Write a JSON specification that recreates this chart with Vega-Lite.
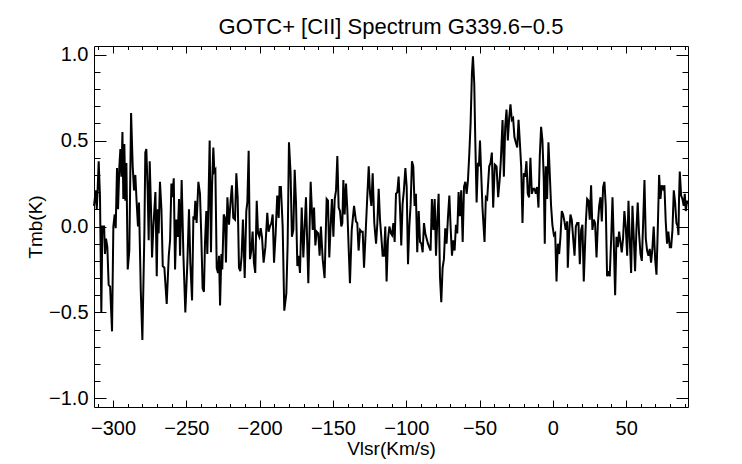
{
  "$schema": "https://vega.github.io/schema/vega-lite/v6.json",
  "width": 594,
  "height": 361,
  "autosize": {"type": "none"},
  "padding": {"left": 94, "top": 46, "right": 54, "bottom": 57},
  "background": "white",
  "title": {
    "text": "GOTC+ [CII] Spectrum G339.6\u22120.5",
    "font": "Liberation Sans",
    "fontSize": 22,
    "fontWeight": "normal",
    "color": "black",
    "anchor": "middle",
    "offset": 6
  },
  "config": {
    "view": {"stroke": null},
    "axis": {
      "grid": false,
      "domainColor": "black",
      "domainWidth": 1,
      "tickColor": "black",
      "tickWidth": 1,
      "labelFont": "Liberation Sans",
      "labelFontSize": 20,
      "labelColor": "black",
      "labelOverlap": false,
      "labelFlush": false,
      "titleFont": "Liberation Sans",
      "titleFontSize": 19,
      "titleFontWeight": "normal",
      "titleColor": "#000000"
    }
  },
  "data": {
    "values": [
      {"v": -313.0, "t": 0.12}, {"v": -311.8, "t": 0.21}, {"v": -311.1, "t": 0.10}, {"v": -310.5, "t": 0.22},
      {"v": -309.8, "t": 0.38}, {"v": -308.9, "t": 0.17}, {"v": -308.0, "t": -0.50}, {"v": -307.3, "t": 0.0},
      {"v": -306.1, "t": 0.0}, {"v": -305.5, "t": -0.16}, {"v": -304.8, "t": -0.07}, {"v": -303.9, "t": -0.12},
      {"v": -303.0, "t": -0.34}, {"v": -302.0, "t": -0.35}, {"v": -300.7, "t": -0.61}, {"v": -299.8, "t": 0.0},
      {"v": -298.9, "t": 0.07}, {"v": -298.2, "t": -0.01}, {"v": -297.3, "t": 0.34}, {"v": -296.6, "t": 0.10},
      {"v": -295.7, "t": 0.35}, {"v": -295.0, "t": 0.45}, {"v": -294.3, "t": 0.29}, {"v": -293.6, "t": 0.55},
      {"v": -293.0, "t": 0.16}, {"v": -292.3, "t": 0.48}, {"v": -291.6, "t": 0.15}, {"v": -290.9, "t": 0.37},
      {"v": -290.0, "t": -0.25}, {"v": -288.9, "t": -0.14}, {"v": -287.7, "t": 0.66}, {"v": -286.6, "t": 0.35},
      {"v": -285.7, "t": 0.21}, {"v": -284.8, "t": 0.30}, {"v": -283.9, "t": 0.14}, {"v": -283.0, "t": 0.0},
      {"v": -282.3, "t": 0.14}, {"v": -281.1, "t": -0.37}, {"v": -280.0, "t": -0.66}, {"v": -278.6, "t": -0.02},
      {"v": -278.0, "t": 0.43}, {"v": -277.3, "t": 0.45}, {"v": -276.4, "t": 0.21}, {"v": -275.7, "t": -0.08},
      {"v": -275.0, "t": 0.38}, {"v": -274.1, "t": 0.10}, {"v": -273.4, "t": -0.18}, {"v": -272.5, "t": 0.0},
      {"v": -271.1, "t": 0.20}, {"v": -270.2, "t": -0.29}, {"v": -269.5, "t": 0.10}, {"v": -268.9, "t": -0.04},
      {"v": -268.0, "t": 0.26}, {"v": -267.0, "t": 0.10}, {"v": -266.1, "t": -0.23}, {"v": -265.0, "t": -0.24},
      {"v": -263.4, "t": -0.45}, {"v": -262.0, "t": -0.17}, {"v": -261.1, "t": -0.08}, {"v": -260.2, "t": 0.25},
      {"v": -259.5, "t": 0.17}, {"v": -258.6, "t": 0.28}, {"v": -257.7, "t": -0.25}, {"v": -256.8, "t": 0.04},
      {"v": -255.9, "t": -0.06}, {"v": -255.0, "t": 0.16}, {"v": -254.3, "t": -0.17}, {"v": -253.2, "t": 0.27},
      {"v": -252.0, "t": -0.17}, {"v": -250.7, "t": -0.50}, {"v": -249.3, "t": -0.21}, {"v": -248.2, "t": 0.10},
      {"v": -247.3, "t": -0.21}, {"v": -246.1, "t": -0.43}, {"v": -245.2, "t": 0.06}, {"v": -244.5, "t": 0.04},
      {"v": -243.9, "t": 0.15}, {"v": -243.0, "t": 0.02}, {"v": -241.8, "t": 0.26}, {"v": -240.7, "t": 0.19},
      {"v": -239.8, "t": -0.06}, {"v": -238.9, "t": -0.36}, {"v": -238.0, "t": -0.38}, {"v": -237.3, "t": -0.10},
      {"v": -236.4, "t": 0.09}, {"v": -235.7, "t": -0.16}, {"v": -235.0, "t": 0.10}, {"v": -234.1, "t": 0.50},
      {"v": -233.2, "t": -0.15}, {"v": -232.5, "t": 0.23}, {"v": -231.6, "t": 0.46}, {"v": -230.9, "t": 0.32},
      {"v": -230.2, "t": 0.33}, {"v": -229.3, "t": -0.24}, {"v": -228.4, "t": -0.27}, {"v": -227.7, "t": -0.17},
      {"v": -227.0, "t": -0.46}, {"v": -226.1, "t": -0.16}, {"v": -225.5, "t": -0.25}, {"v": -224.5, "t": 0.07},
      {"v": -223.6, "t": 0.05}, {"v": -223.0, "t": -0.21}, {"v": -222.0, "t": 0.17}, {"v": -220.9, "t": 0.01},
      {"v": -219.8, "t": 0.15}, {"v": -218.9, "t": 0.24}, {"v": -218.0, "t": 0.05}, {"v": -216.8, "t": 0.04},
      {"v": -215.9, "t": 0.31}, {"v": -215.0, "t": 0.17}, {"v": -214.1, "t": -0.24}, {"v": -213.2, "t": -0.26},
      {"v": -212.3, "t": -0.17}, {"v": -211.4, "t": 0.04}, {"v": -210.2, "t": -0.30}, {"v": -209.1, "t": 0.09},
      {"v": -208.4, "t": 0.14}, {"v": -207.5, "t": 0.44}, {"v": -206.6, "t": -0.19}, {"v": -205.7, "t": -0.14},
      {"v": -204.8, "t": -0.03}, {"v": -203.9, "t": -0.21}, {"v": -203.0, "t": -0.27}, {"v": -202.0, "t": 0.15},
      {"v": -201.1, "t": -0.04}, {"v": -200.2, "t": -0.06}, {"v": -199.3, "t": -0.01}, {"v": -198.4, "t": -0.06},
      {"v": -197.3, "t": -0.21}, {"v": -196.1, "t": -0.12}, {"v": -194.8, "t": 0.08}, {"v": -193.9, "t": -0.03},
      {"v": -193.0, "t": 0.0}, {"v": -192.0, "t": 0.02}, {"v": -191.1, "t": 0.07}, {"v": -190.2, "t": -0.21},
      {"v": -189.1, "t": -0.04}, {"v": -188.0, "t": 0.18}, {"v": -187.0, "t": 0.05}, {"v": -186.4, "t": 0.23},
      {"v": -185.5, "t": 0.23}, {"v": -184.3, "t": 0.0}, {"v": -183.2, "t": -0.49}, {"v": -181.8, "t": -0.39},
      {"v": -180.9, "t": -0.10}, {"v": -180.0, "t": 0.49}, {"v": -178.9, "t": 0.31}, {"v": -178.0, "t": -0.06},
      {"v": -177.0, "t": -0.02}, {"v": -176.1, "t": 0.33}, {"v": -175.2, "t": 0.14}, {"v": -174.3, "t": -0.23},
      {"v": -173.4, "t": -0.17}, {"v": -172.5, "t": -0.27}, {"v": -171.3, "t": 0.11}, {"v": -170.2, "t": -0.18},
      {"v": -168.4, "t": 0.17}, {"v": -166.8, "t": -0.33}, {"v": -165.2, "t": 0.26}, {"v": -163.8, "t": -0.02},
      {"v": -162.9, "t": 0.11}, {"v": -162.0, "t": -0.11}, {"v": -161.1, "t": -0.03}, {"v": -160.0, "t": -0.04},
      {"v": -159.1, "t": -0.17}, {"v": -158.2, "t": 0.0}, {"v": -157.0, "t": -0.19}, {"v": -155.7, "t": -0.30},
      {"v": -154.3, "t": 0.16}, {"v": -153.4, "t": 0.15}, {"v": -152.5, "t": -0.18}, {"v": -151.6, "t": 0.0},
      {"v": -150.7, "t": 0.16}, {"v": -149.7, "t": -0.06}, {"v": -148.8, "t": 0.16}, {"v": -147.9, "t": 0.21},
      {"v": -147.0, "t": 0.41}, {"v": -146.1, "t": 0.11}, {"v": -145.2, "t": 0.09}, {"v": -144.3, "t": 0.0},
      {"v": -143.6, "t": 0.02}, {"v": -142.9, "t": 0.27}, {"v": -142.0, "t": 0.07}, {"v": -141.1, "t": 0.25},
      {"v": -140.2, "t": 0.10}, {"v": -139.3, "t": -0.12}, {"v": -138.4, "t": -0.33}, {"v": -137.2, "t": -0.02},
      {"v": -135.6, "t": 0.12}, {"v": -134.3, "t": 0.03}, {"v": -133.4, "t": 0.02}, {"v": -132.5, "t": -0.14},
      {"v": -131.5, "t": -0.02}, {"v": -130.6, "t": -0.03}, {"v": -129.7, "t": -0.03}, {"v": -128.8, "t": -0.24},
      {"v": -127.5, "t": 0.0}, {"v": -126.6, "t": 0.17}, {"v": -125.6, "t": 0.35}, {"v": -124.7, "t": 0.19},
      {"v": -123.8, "t": 0.12}, {"v": -122.9, "t": 0.31}, {"v": -121.8, "t": 0.02}, {"v": -120.6, "t": -0.10},
      {"v": -119.7, "t": 0.02}, {"v": -118.8, "t": 0.22}, {"v": -117.9, "t": 0.04}, {"v": -117.0, "t": -0.06},
      {"v": -116.1, "t": -0.17}, {"v": -115.2, "t": -0.17}, {"v": -114.3, "t": 0.0}, {"v": -113.4, "t": -0.32},
      {"v": -112.5, "t": -0.08}, {"v": -111.5, "t": 0.0}, {"v": -110.4, "t": -0.04}, {"v": -109.7, "t": -0.05},
      {"v": -108.8, "t": 0.02}, {"v": -107.9, "t": -0.09}, {"v": -107.0, "t": 0.19}, {"v": -106.1, "t": 0.20},
      {"v": -105.2, "t": 0.29}, {"v": -104.3, "t": 0.12}, {"v": -103.4, "t": -0.11}, {"v": -102.5, "t": 0.13},
      {"v": -101.6, "t": 0.21}, {"v": -100.6, "t": 0.34}, {"v": -99.7, "t": 0.23}, {"v": -98.8, "t": -0.22},
      {"v": -97.9, "t": 0.0}, {"v": -97.0, "t": 0.13}, {"v": -96.1, "t": 0.38}, {"v": -95.2, "t": 0.35},
      {"v": -94.3, "t": 0.12}, {"v": -93.4, "t": 0.19}, {"v": -92.5, "t": -0.15}, {"v": -91.5, "t": 0.09},
      {"v": -90.6, "t": -0.09}, {"v": -89.7, "t": -0.10}, {"v": -88.8, "t": -0.15}, {"v": -87.9, "t": 0.02},
      {"v": -87.0, "t": -0.04}, {"v": -86.1, "t": -0.07}, {"v": -85.2, "t": -0.10}, {"v": -84.3, "t": -0.12},
      {"v": -83.4, "t": -0.14}, {"v": -82.5, "t": 0.16}, {"v": -81.5, "t": -0.02}, {"v": -80.6, "t": 0.16},
      {"v": -79.7, "t": -0.17}, {"v": -78.8, "t": 0.04}, {"v": -77.9, "t": 0.19}, {"v": -77.0, "t": -0.29},
      {"v": -76.1, "t": -0.44}, {"v": -75.2, "t": -0.24}, {"v": -74.3, "t": -0.19}, {"v": -73.4, "t": -0.01},
      {"v": -72.5, "t": -0.10}, {"v": -71.5, "t": 0.06}, {"v": -70.6, "t": 0.18}, {"v": -69.7, "t": -0.01},
      {"v": -68.8, "t": -0.17}, {"v": -67.9, "t": -0.08}, {"v": -67.0, "t": -0.14}, {"v": -66.1, "t": 0.01},
      {"v": -65.2, "t": -0.04}, {"v": -64.3, "t": 0.20}, {"v": -63.4, "t": 0.06}, {"v": -62.5, "t": 0.21},
      {"v": -61.5, "t": -0.09}, {"v": -60.6, "t": 0.23}, {"v": -59.7, "t": 0.26}, {"v": -58.8, "t": 0.19},
      {"v": -57.9, "t": 0.27}, {"v": -57.0, "t": 0.42}, {"v": -56.1, "t": 0.60}, {"v": -55.2, "t": 0.89},
      {"v": -54.5, "t": 0.99}, {"v": -53.6, "t": 0.83}, {"v": -52.9, "t": 0.50}, {"v": -52.0, "t": 0.14},
      {"v": -51.1, "t": 0.37}, {"v": -50.4, "t": 0.35}, {"v": -49.7, "t": 0.50}, {"v": -48.0, "t": 0.11},
      {"v": -46.6, "t": -0.09}, {"v": -45.7, "t": 0.17}, {"v": -44.8, "t": 0.16}, {"v": -43.4, "t": 0.35},
      {"v": -42.5, "t": 0.37}, {"v": -41.6, "t": 0.43}, {"v": -40.7, "t": 0.11}, {"v": -39.6, "t": 0.36},
      {"v": -38.4, "t": 0.35}, {"v": -37.3, "t": 0.17}, {"v": -36.2, "t": 0.28}, {"v": -35.5, "t": 0.38},
      {"v": -34.3, "t": 0.62}, {"v": -33.4, "t": 0.29}, {"v": -32.5, "t": 0.58}, {"v": -31.6, "t": 0.68},
      {"v": -30.7, "t": 0.50}, {"v": -29.8, "t": 0.63}, {"v": -28.9, "t": 0.71}, {"v": -28.0, "t": 0.62},
      {"v": -27.1, "t": 0.63}, {"v": -26.2, "t": 0.52}, {"v": -25.3, "t": 0.49}, {"v": -24.3, "t": 0.46},
      {"v": -23.4, "t": 0.62}, {"v": -22.5, "t": 0.49}, {"v": -21.6, "t": 0.35}, {"v": -20.7, "t": 0.02},
      {"v": -19.8, "t": 0.31}, {"v": -18.9, "t": 0.29}, {"v": -18.0, "t": 0.38}, {"v": -17.1, "t": 0.19},
      {"v": -16.2, "t": 0.17}, {"v": -15.3, "t": 0.40}, {"v": -14.3, "t": 0.19}, {"v": -13.4, "t": 0.22},
      {"v": -12.5, "t": 0.22}, {"v": -11.6, "t": 0.19}, {"v": -10.7, "t": 0.23}, {"v": -9.8, "t": 0.11},
      {"v": -8.9, "t": 0.41}, {"v": -8.0, "t": 0.58}, {"v": -7.1, "t": 0.50}, {"v": -6.2, "t": 0.28},
      {"v": -5.5, "t": -0.10}, {"v": -4.8, "t": 0.35}, {"v": -3.9, "t": 0.16}, {"v": -3.0, "t": 0.49},
      {"v": -2.1, "t": 0.31}, {"v": -1.2, "t": 0.12}, {"v": -0.3, "t": 0.01}, {"v": 0.7, "t": -0.05},
      {"v": 1.6, "t": -0.04}, {"v": 2.5, "t": -0.32}, {"v": 3.4, "t": -0.10}, {"v": 4.3, "t": -0.16},
      {"v": 5.2, "t": -0.06}, {"v": 6.1, "t": 0.09}, {"v": 7.0, "t": 0.07}, {"v": 7.9, "t": 0.03},
      {"v": 8.8, "t": -0.02}, {"v": 9.8, "t": 0.03}, {"v": 10.2, "t": -0.24}, {"v": 11.1, "t": -0.04},
      {"v": 12.0, "t": 0.07}, {"v": 12.9, "t": 0.04}, {"v": 13.8, "t": -0.06}, {"v": 14.8, "t": -0.17},
      {"v": 15.7, "t": 0.0}, {"v": 16.6, "t": 0.02}, {"v": 17.5, "t": 0.02}, {"v": 18.4, "t": -0.22},
      {"v": 19.3, "t": -0.02}, {"v": 20.2, "t": 0.01}, {"v": 21.1, "t": -0.32}, {"v": 22.5, "t": 0.02},
      {"v": 23.4, "t": 0.16}, {"v": 24.3, "t": 0.15}, {"v": 25.2, "t": 0.04}, {"v": 26.1, "t": 0.24},
      {"v": 27.0, "t": -0.02}, {"v": 27.9, "t": 0.04}, {"v": 28.8, "t": 0.02}, {"v": 29.8, "t": -0.18},
      {"v": 30.7, "t": 0.01}, {"v": 31.6, "t": 0.12}, {"v": 32.5, "t": 0.17}, {"v": 33.4, "t": 0.03},
      {"v": 34.3, "t": 0.23}, {"v": 35.2, "t": 0.26}, {"v": 36.1, "t": 0.12}, {"v": 37.0, "t": -0.29},
      {"v": 37.9, "t": -0.26}, {"v": 38.8, "t": -0.29}, {"v": 39.8, "t": -0.07}, {"v": 40.7, "t": 0.17},
      {"v": 41.6, "t": -0.10}, {"v": 42.5, "t": -0.40}, {"v": 43.4, "t": -0.06}, {"v": 44.3, "t": -0.12},
      {"v": 45.2, "t": -0.03}, {"v": 46.1, "t": -0.09}, {"v": 47.0, "t": -0.15}, {"v": 47.9, "t": -0.07},
      {"v": 48.8, "t": 0.09}, {"v": 49.8, "t": -0.01}, {"v": 50.7, "t": -0.17}, {"v": 51.6, "t": 0.15},
      {"v": 52.5, "t": -0.08}, {"v": 53.4, "t": -0.27}, {"v": 54.3, "t": 0.12}, {"v": 55.2, "t": -0.06},
      {"v": 56.1, "t": -0.26}, {"v": 57.0, "t": -0.02}, {"v": 57.9, "t": 0.14}, {"v": 58.8, "t": -0.04},
      {"v": 59.8, "t": -0.16}, {"v": 60.7, "t": -0.20}, {"v": 61.6, "t": 0.02}, {"v": 62.5, "t": 0.27},
      {"v": 63.4, "t": -0.07}, {"v": 64.3, "t": -0.14}, {"v": 65.2, "t": -0.17}, {"v": 66.1, "t": -0.13},
      {"v": 67.0, "t": -0.21}, {"v": 67.9, "t": -0.13}, {"v": 68.8, "t": 0.0}, {"v": 69.8, "t": -0.19},
      {"v": 70.7, "t": -0.28}, {"v": 71.6, "t": -0.01}, {"v": 72.5, "t": 0.30}, {"v": 73.4, "t": 0.16},
      {"v": 74.3, "t": 0.24}, {"v": 75.2, "t": 0.22}, {"v": 76.1, "t": 0.24}, {"v": 77.0, "t": 0.03},
      {"v": 77.9, "t": -0.10}, {"v": 78.8, "t": -0.03}, {"v": 79.8, "t": -0.12}, {"v": 80.7, "t": -0.12},
      {"v": 81.6, "t": -0.02}, {"v": 82.5, "t": 0.21}, {"v": 83.4, "t": 0.14}, {"v": 84.3, "t": 0.02},
      {"v": 85.2, "t": 0.0}, {"v": 85.7, "t": -0.05}, {"v": 86.1, "t": 0.17}, {"v": 86.6, "t": 0.32},
      {"v": 87.5, "t": 0.18}, {"v": 88.4, "t": 0.16}, {"v": 89.3, "t": 0.12}, {"v": 90.0, "t": 0.19},
      {"v": 90.7, "t": 0.09}, {"v": 91.6, "t": 0.15}, {"v": 92.0, "t": 0.13}
    ]
  },
  "layer": [
    {
      "mark": {"type": "line", "color": "black", "strokeWidth": 2, "interpolate": "linear"},
      "encoding": {
        "x": {
          "field": "v",
          "type": "quantitative",
          "scale": {"domain": [-313, 92.2], "nice": false, "zero": false},
          "axis": {
            "orient": "bottom",
            "title": "Vlsr(Km/s)",
            "titleColor": "#000000",
            "values": [-310, -300, -290, -280, -270, -260, -250, -240, -230, -220, -210, -200, -190, -180, -170, -160, -150, -140, -130, -120, -110, -100, -90, -80, -70, -60, -50, -40, -30, -20, -10, 0, 10, 20, 30, 40, 50, 60, 70, 80, 90],
            "format": "d",
            "labelExpr": "datum.value % 50 === 0 ? datum.label : ''",
            "tickSize": {"condition": {"test": "datum.value % 50 === 0", "value": -7}, "value": -3.5},
            "labelPadding": 18.5,
            "titlePadding": -3
          }
        },
        "y": {
          "field": "t",
          "type": "quantitative",
          "scale": {"domain": [-1.05, 1.05], "nice": false, "zero": false},
          "axis": {
            "orient": "left",
            "title": "Tmb(K)",
            "titleColor": "#000000",
            "values": [-1, -0.9, -0.8, -0.7, -0.6, -0.5, -0.4, -0.3, -0.2, -0.1, 0, 0.1, 0.2, 0.3, 0.4, 0.5, 0.6, 0.7, 0.8, 0.9, 1],
            "format": ".1f",
            "labelExpr": "round(datum.value * 10) % 5 === 0 ? datum.label : ''",
            "tickSize": {"condition": {"test": "round(datum.value * 10) % 5 === 0", "value": -12}, "value": -6},
            "labelPadding": 18,
            "titlePadding": 3
          }
        }
      }
    },
    {
      "mark": {"type": "line", "opacity": 0},
      "encoding": {
        "x": {
          "field": "v",
          "type": "quantitative",
          "scale": {"domain": [-313, 92.2], "nice": false, "zero": false},
          "axis": {
            "orient": "top",
            "title": null,
            "labels": false,
            "values": [-310, -300, -290, -280, -270, -260, -250, -240, -230, -220, -210, -200, -190, -180, -170, -160, -150, -140, -130, -120, -110, -100, -90, -80, -70, -60, -50, -40, -30, -20, -10, 0, 10, 20, 30, 40, 50, 60, 70, 80, 90],
            "tickSize": {"condition": {"test": "datum.value % 50 === 0", "value": -7}, "value": -3.5}
          }
        },
        "y": {
          "field": "t",
          "type": "quantitative",
          "scale": {"domain": [-1.05, 1.05], "nice": false, "zero": false},
          "axis": {
            "orient": "right",
            "title": null,
            "labels": false,
            "values": [-1, -0.9, -0.8, -0.7, -0.6, -0.5, -0.4, -0.3, -0.2, -0.1, 0, 0.1, 0.2, 0.3, 0.4, 0.5, 0.6, 0.7, 0.8, 0.9, 1],
            "tickSize": {"condition": {"test": "round(datum.value * 10) % 5 === 0", "value": -12}, "value": -6}
          }
        }
      }
    }
  ],
  "resolve": {"axis": {"x": "independent", "y": "independent"}}
}
